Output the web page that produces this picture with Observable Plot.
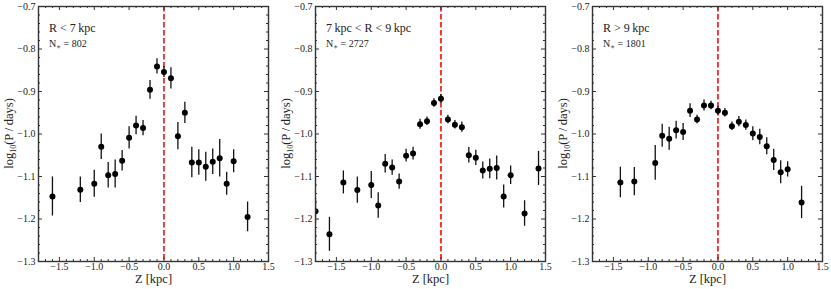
<!DOCTYPE html>
<html><head><meta charset="utf-8">
<script src="https://cdn.jsdelivr.net/npm/d3@7"></script>
<script src="https://cdn.jsdelivr.net/npm/@observablehq/plot@0.6"></script>
<style>
html,body{margin:0;padding:0;background:#fff;}
#row{display:flex;width:831px;height:289px;}
#row svg{display:block;}
#row svg, #row svg text, #row svg tspan{font-family:"Liberation Serif","DejaVu Serif",serif !important;}
</style></head><body><div id="row"></div>
<script>
// ---- data ----
const panelTitles = ["R < 7\u2009kpc", "7\u2009kpc < R < 9\u2009kpc", "R > 9\u2009kpc"];
const panelCounts = [802, 2727, 1801];

const zInner = [-1.6,-1.2,-1.0,-0.9,-0.8,-0.7,-0.6,-0.5,-0.4,-0.3,-0.2,-0.1,0.0,0.1,0.2,0.3,0.4,0.5,0.6,0.7,0.8,0.9,1.0,1.2];
const pInner = [-1.147,-1.131,-1.117,-1.030,-1.097,-1.094,-1.063,-1.009,-0.980,-0.986,-0.896,-0.841,-0.854,-0.869,-1.005,-0.950,-1.067,-1.067,-1.077,-1.065,-1.057,-1.117,-1.064,-1.195];
const eInner = [0.046,0.030,0.032,0.030,0.030,0.033,0.024,0.026,0.022,0.018,0.022,0.018,0.013,0.025,0.032,0.025,0.036,0.030,0.034,0.030,0.044,0.027,0.027,0.035];

const zMid = [-1.8,-1.6,-1.4,-1.2,-1.0,-0.9,-0.8,-0.7,-0.6,-0.5,-0.4,-0.3,-0.2,-0.1,0.0,0.1,0.2,0.3,0.4,0.5,0.6,0.7,0.8,0.9,1.0,1.2,1.4];
const pMid = [-1.182,-1.236,-1.114,-1.132,-1.120,-1.168,-1.070,-1.079,-1.112,-1.051,-1.046,-0.977,-0.970,-0.927,-0.917,-0.966,-0.978,-0.984,-1.050,-1.056,-1.086,-1.082,-1.080,-1.147,-1.097,-1.187,-1.081];
const eMid = [0.030,0.040,0.027,0.031,0.032,0.030,0.022,0.018,0.018,0.015,0.015,0.012,0.010,0.010,0.010,0.010,0.010,0.012,0.018,0.018,0.020,0.023,0.028,0.027,0.022,0.030,0.040];

const zOuter = [-1.4,-1.2,-0.9,-0.8,-0.7,-0.6,-0.5,-0.4,-0.3,-0.2,-0.1,0.0,0.1,0.2,0.3,0.4,0.5,0.6,0.7,0.8,0.9,1.0,1.2];
const pOuter = [-1.114,-1.112,-1.068,-1.004,-1.011,-0.991,-0.995,-0.945,-0.966,-0.933,-0.933,-0.945,-0.950,-0.982,-0.971,-0.979,-0.999,-1.007,-1.029,-1.061,-1.090,-1.083,-1.161];
const eOuter = [0.036,0.033,0.041,0.027,0.027,0.021,0.020,0.016,0.010,0.013,0.010,0.010,0.010,0.010,0.012,0.012,0.016,0.018,0.020,0.025,0.027,0.018,0.038];

const xTicks = [-1.5,-1.0,-0.5,0.0,0.5,1.0,1.5];
const yTicks = [-1.3,-1.2,-1.1,-1.0,-0.9,-0.8,-0.7];
const xDomain = [-1.8, 1.5];
const yDomain = [-1.3, -0.7];

// ---- layout ----
const W = 277, H = 289, mL = 38, mR = 9, mT = 6, mB = 28;
const innerW = W - mL - mR, innerH = H - mT - mB;
const axisColor = "#333";
const font = "Liberation Serif";
const xMinor = d3.range(-18, 16, 1).map(v => v / 10).filter(v => !xTicks.some(t => Math.abs(t - v) < 1e-9));
const yMinor = d3.range(-65, -34, 1).map(v => v / 50).filter(v => !yTicks.some(t => Math.abs(t - v) < 1e-9));

const series = [
  [zInner, pInner, eInner],
  [zMid, pMid, eMid],
  [zOuter, pOuter, eOuter]
];

const row = document.getElementById("row");
const fmt = d3.format(".1f");

series.forEach(([zs, ps, es], i) => {
  const data = zs.map((z, k) => ({z, p: ps[k], e: es[k]}));
  const chart = Plot.plot({
    width: W, height: H,
    marginLeft: mL, marginRight: mR, marginTop: mT, marginBottom: mB,
    x: {domain: xDomain},
    y: {domain: yDomain},
    style: {fontFamily: font, fontSize: "10px", color: "#222", background: "white", overflow: "visible"},
    marks: [
      Plot.ruleX([0], {x: d => d, stroke: "#ee1111", strokeWidth: 1.6, strokeDasharray: "5.5,2.5"}),
      Plot.ruleX(data, {x: "z", y1: d => d.p - d.e, y2: d => d.p + d.e, stroke: "#111", strokeWidth: 1.3, clip: true}),
      Plot.dot(data, {x: "z", y: "p", r: 3, fill: "#000", stroke: "none", clip: true}),
      Plot.tickX(xTicks, {x: d => d, insetTop: innerH - 4, stroke: axisColor, strokeWidth: 1}),
      Plot.tickX(xTicks, {x: d => d, insetBottom: innerH - 4, stroke: axisColor, strokeWidth: 1}),
      Plot.tickX(xMinor, {x: d => d, insetTop: innerH - 2, stroke: axisColor, strokeWidth: 1}),
      Plot.tickX(xMinor, {x: d => d, insetBottom: innerH - 2, stroke: axisColor, strokeWidth: 1}),
      Plot.tickY(yTicks, {y: d => d, insetRight: innerW - 4, stroke: axisColor, strokeWidth: 1}),
      Plot.tickY(yTicks, {y: d => d, insetLeft: innerW - 4, stroke: axisColor, strokeWidth: 1}),
      Plot.tickY(yMinor, {y: d => d, insetRight: innerW - 2, stroke: axisColor, strokeWidth: 1}),
      Plot.tickY(yMinor, {y: d => d, insetLeft: innerW - 2, stroke: axisColor, strokeWidth: 1}),
      Plot.frame({stroke: axisColor, strokeWidth: 1.4}),
      Plot.axisX({ticks: xTicks, tickSize: 0, tickPadding: 1, tickFormat: fmt, label: null, fontSize: 10}),
      Plot.axisY({ticks: yTicks, tickSize: 0, tickPadding: 3, tickFormat: fmt, label: null, fontSize: 10}),
      Plot.text(["Z [kpc]"], {text: d => d, frameAnchor: "bottom", dy: 21, fontSize: 12.5, fill: "#222"})
    ]
  });
  const svg = d3.select(chart);
  const yl = svg.append("text")
    .attr("transform", `translate(13,${mT + innerH / 2}) rotate(-90)`)
    .attr("text-anchor", "middle")
    .attr("font-size", 12.5)
    .attr("fill", "#222");
  yl.append("tspan").text("log");
  yl.append("tspan").attr("font-size", 8).attr("dy", 3).text("10");
  yl.append("tspan").attr("dy", -3).text("(P\u2009/\u2009days)");
  svg.append("text").attr("x", mL + 11).attr("y", 32).attr("text-anchor", "start")
    .attr("font-size", 12).attr("fill", "#222").text(panelTitles[i]);
  const nt = svg.append("text").attr("x", mL + 11).attr("y", 46.5).attr("text-anchor", "start")
    .attr("font-size", 10).attr("fill", "#222");
  nt.append("tspan").text("N");
  nt.append("tspan").attr("font-size", 7).attr("dy", 2).text("\u2217");
  nt.append("tspan").attr("dy", -2).text(" = " + panelCounts[i]);
  row.appendChild(chart);
});
</script></body></html>
